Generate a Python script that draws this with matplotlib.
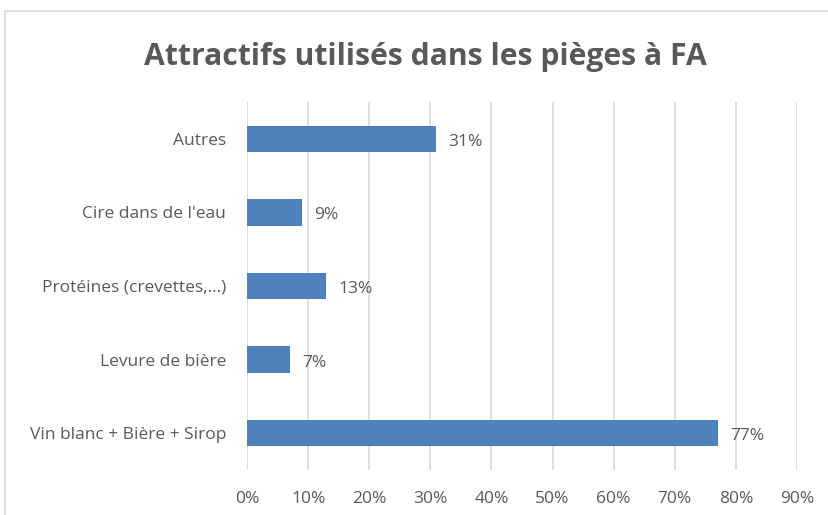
import matplotlib.pyplot as plt
from matplotlib.patches import Rectangle
from matplotlib.ticker import PercentFormatter

categories = ["Vin blanc + Bière + Sirop", "Levure de bière",
              "Protéines (crevettes,...)", "Cire dans de l'eau", "Autres"]
values = [77, 7, 13, 9, 31]
xticks = [0, 10, 20, 30, 40, 50, 60, 70, 80, 90]

plt.rcParams['font.family'] = ['Open Sans', 'DejaVu Sans']
txt = '#595959'

fig = plt.figure(figsize=(8.29, 5.15), dpi=100)
fig.patches.append(Rectangle((5 / 829, -0.05), 1.2, 1 - 11 / 515 + 0.05,
                             transform=fig.transFigure, fill=False,
                             edgecolor='#d9d9d9', linewidth=1.2))
ax = fig.add_axes([247 / 829, 0.0874, 550 / 829, 0.7146])

ypos = range(len(categories))
ax.barh(ypos, values, height=0.36, color='#4f81bd', zorder=3)
for y, v in zip(ypos, values):
    ax.text(v + 2, y - 0.04, "{}%".format(v), va='center', ha='left',
            fontsize=12.5, color=txt)

ax.set_xlim(0, 90)
ax.set_ylim(-0.5, len(categories) - 0.5)
ax.set_xticks(xticks)
ax.xaxis.set_major_formatter(PercentFormatter(decimals=0))
ax.set_yticks(list(ypos))
ax.set_yticklabels(categories)
ax.grid(axis='x', color='#d9d9d9', linewidth=1.2, zorder=0)
for s in ax.spines.values():
    s.set_visible(False)
ax.tick_params(axis='both', length=0, labelsize=12.5, labelcolor=txt)
ax.tick_params(axis='x', pad=15)
ax.tick_params(axis='y', pad=15)

fig.text(0.513, 1 - 57 / 515, "Attractifs utilisés dans les pièges à FA",
         ha='center', va='center', fontsize=21.7, fontweight='bold', color=txt)

plt.savefig("out.png", dpi=100)
